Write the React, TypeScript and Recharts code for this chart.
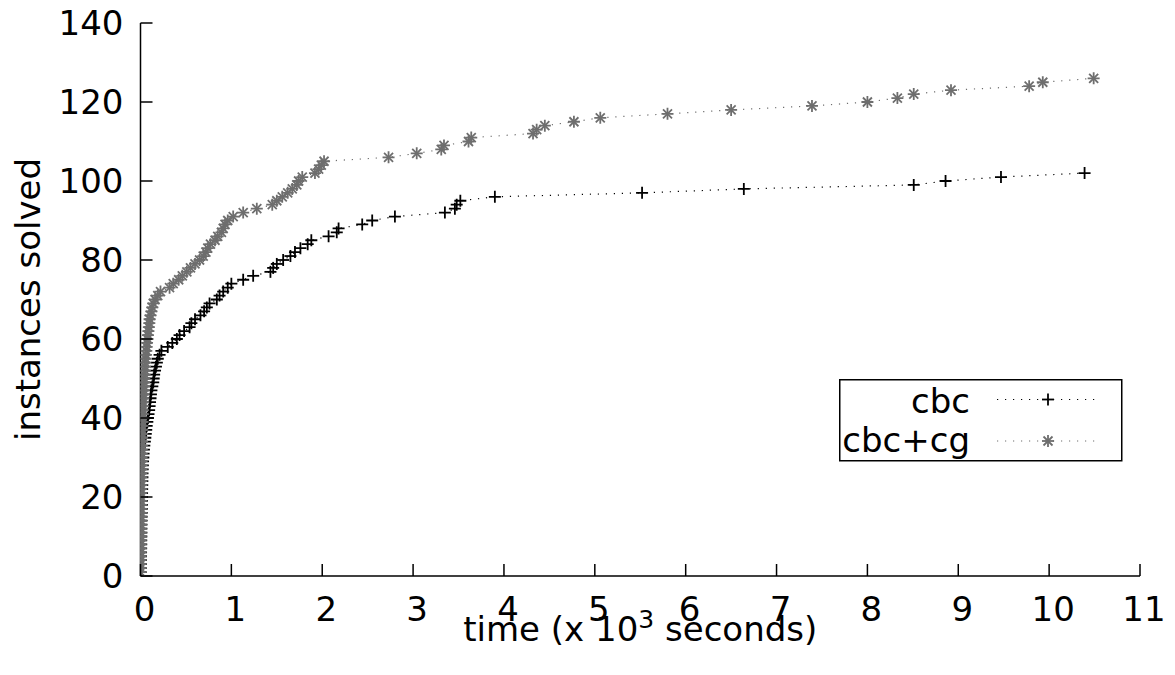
import React from "react";
import { LineChart, Line, XAxis, YAxis, Legend } from "recharts";

// time in 10^3 seconds, number of instances solved
const cbcTimes = [
  0.002, 0.003, 0.004, 0.005, 0.005, 0.006, 0.007, 0.008, 0.008, 0.009,
  0.010, 0.010, 0.011, 0.012, 0.012, 0.013, 0.014, 0.015, 0.015, 0.016,
  0.017, 0.018, 0.019, 0.020, 0.021, 0.022, 0.024, 0.026, 0.028, 0.031,
  0.034, 0.038, 0.042, 0.048, 0.053, 0.058, 0.063, 0.068, 0.075, 0.082,
  0.088, 0.095, 0.100, 0.105, 0.11, 0.115, 0.12, 0.13, 0.14, 0.145,
  0.15, 0.16, 0.17, 0.18, 0.19, 0.21, 0.23, 0.30, 0.35, 0.40,
  0.43, 0.48, 0.54, 0.56, 0.60, 0.66, 0.70, 0.73, 0.76, 0.84,
  0.87, 0.91, 0.96, 1.0, 1.13, 1.24, 1.43, 1.46, 1.50, 1.57,
  1.65, 1.70, 1.76, 1.84, 1.88, 2.07, 2.16, 2.18, 2.44, 2.55,
  2.80, 3.35, 3.46, 3.48, 3.52, 3.90, 5.52, 6.64, 8.51, 8.86,
  9.47, 10.39,
];

const cgTimes = [
  0.000, 0.001, 0.001, 0.002, 0.002, 0.002, 0.003, 0.003, 0.003, 0.004,
  0.004, 0.004, 0.005, 0.005, 0.005, 0.006, 0.006, 0.006, 0.007, 0.007,
  0.008, 0.008, 0.009, 0.009, 0.010, 0.010, 0.011, 0.011, 0.012, 0.012,
  0.013, 0.014, 0.015, 0.016, 0.017, 0.018, 0.019, 0.020, 0.022, 0.024,
  0.026, 0.027, 0.029, 0.030, 0.032, 0.034, 0.036, 0.038, 0.040, 0.042,
  0.045, 0.048, 0.050, 0.053, 0.056, 0.060, 0.064, 0.068, 0.072, 0.077,
  0.082, 0.087, 0.092, 0.097, 0.10, 0.11, 0.12, 0.13, 0.14, 0.16,
  0.19, 0.22, 0.32, 0.36, 0.42, 0.46, 0.51, 0.55, 0.60, 0.65,
  0.69, 0.72, 0.74, 0.77, 0.82, 0.85, 0.89, 0.91, 0.93, 0.96,
  1.02, 1.13, 1.28, 1.45, 1.50, 1.56, 1.62, 1.67, 1.72, 1.74,
  1.78, 1.92, 1.96, 1.99, 2.02, 2.73, 3.04, 3.31, 3.34, 3.61,
  3.64, 4.32, 4.36, 4.45, 4.77, 5.06, 5.80, 6.50, 7.39, 8.00,
  8.33, 8.51, 8.92, 9.78, 9.93, 10.49,
];

const xTicks = [0, 1, 2, 3, 4, 5, 6, 7, 8, 9, 10, 11];
const yTicks = [0, 20, 40, 60, 80, 100, 120, 140];

const seriesNames = ["cbc", "cbc+cg"];
const seriesColors = ["#000000", "#6e6e6e"];

const cbcData = cbcTimes.map((t, i) => ({ t, n: i + 1 }));
const cgData = cgTimes.map((t, i) => ({ t, n: i + 1 }));

const FONT = "'DejaVu Sans', sans-serif";
const FS = 34;
const TICK_LEN = 12;

const PlusMark = ({ cx, cy, color }: any) => (
  <g stroke={color} strokeWidth={1.8} fill="none">
    <line x1={cx - 6} y1={cy} x2={cx + 6} y2={cy} />
    <line x1={cx} y1={cy - 6} x2={cx} y2={cy + 6} />
  </g>
);

const StarMark = ({ cx, cy, color }: any) => (
  <g stroke={color} strokeWidth={1.8} fill="none">
    <line x1={cx - 6} y1={cy} x2={cx + 6} y2={cy} />
    <line x1={cx} y1={cy - 6} x2={cx} y2={cy + 6} />
    <line x1={cx - 4.5} y1={cy - 4.5} x2={cx + 4.5} y2={cy + 4.5} />
    <line x1={cx - 4.5} y1={cy + 4.5} x2={cx + 4.5} y2={cy - 4.5} />
  </g>
);

const BottomTick = (props: any) => {
  const { x, y, payload } = props;
  return (
    <g>
      <line x1={x} y1={y} x2={x} y2={y - TICK_LEN} stroke="#000" strokeWidth={1.5} />
      <text x={x + 4} y={y + 45} textAnchor="middle" fontFamily={FONT} fontSize={FS} fill="#000">
        {payload.value}
      </text>
    </g>
  );
};

const TopTick = (props: any) => {
  const { x, y } = props;
  return <line x1={x} y1={y} x2={x} y2={y + TICK_LEN} stroke="#000" strokeWidth={1.5} />;
};

const LeftTick = (props: any) => {
  const { x, y, payload } = props;
  return (
    <g>
      <line x1={x} y1={y} x2={x + TICK_LEN} y2={y} stroke="#000" strokeWidth={1.5} />
      <text x={x - 17} y={y} dy="0.36em" textAnchor="end" fontFamily={FONT} fontSize={FS} fill="#000">
        {payload.value}
      </text>
    </g>
  );
};

const RightTick = (props: any) => {
  const { x, y } = props;
  return <line x1={x} y1={y} x2={x - TICK_LEN} y2={y} stroke="#000" strokeWidth={1.5} />;
};

const XLabel = (props: any) => {
  const vb = props.viewBox || {};
  const cx = vb.x + vb.width / 2;
  const y = vb.y + 65;
  return (
    <text x={cx} y={y} textAnchor="middle" fontFamily={FONT} fontSize={FS} fill="#000">
      <tspan>time (x 10</tspan>
      <tspan dy={-13} fontSize={25}>3</tspan>
      <tspan dy={13}> seconds)</tspan>
    </text>
  );
};

const YLabel = (props: any) => {
  const vb = props.viewBox || {};
  const x = vb.x + 32;
  const y = vb.y + vb.height / 2;
  return (
    <text
      x={x}
      y={y}
      transform={`rotate(-90, ${x}, ${y})`}
      textAnchor="middle"
      fontFamily={FONT}
      fontSize={FS}
      fill="#000"
    >
      instances solved
    </text>
  );
};

const LegendContent = (props: any) => {
  const payload = props.payload || [];
  return (
    <svg width={284} height={83} style={{ display: "block", overflow: "visible" }}>
      <rect x={0.75} y={0.75} width={282} height={81} fill="none" stroke="#000" strokeWidth={1.5} />
      {payload.map((p: any, i: number) => {
        const ly = i === 0 ? 20.5 : 62;
        const by = i === 0 ? 34 : 73;
        const color = p.color || seriesColors[i];
        return (
          <g key={i}>
            <text x={131} y={by} textAnchor="end" fontFamily={FONT} fontSize={FS} fill="#000">
              {p.value}
            </text>
            <line
              x1={158}
              y1={ly}
              x2={260}
              y2={ly}
              stroke={color}
              strokeWidth={1.2}
              strokeDasharray="1.2 6.8"
            />
            {i === 0 ? (
              <PlusMark cx={209} cy={ly} color={color} />
            ) : (
              <StarMark cx={209} cy={ly} color={color} />
            )}
          </g>
        );
      })}
    </svg>
  );
};

export default function App() {
  return (
    <LineChart
      width={1160}
      height={660}
      margin={{ top: 15, right: 28, left: 0, bottom: 0 }}
      style={{ background: "#fff" }}
    >
      <XAxis
        xAxisId="b"
        dataKey="t"
        type="number"
        domain={[0, 11]}
        ticks={xTicks}
        interval={0}
        allowDataOverflow
        height={92}
        tickSize={0}
        tickMargin={0}
        tickLine={false}
        axisLine={{ stroke: "#000", strokeWidth: 1.5 }}
        tick={<BottomTick />}
        label={<XLabel />}
      />
      <XAxis
        xAxisId="top"
        orientation="top"
        dataKey="t"
        type="number"
        domain={[0, 11]}
        ticks={xTicks}
        interval={0}
        height={0}
        tickSize={0}
        tickMargin={0}
        tickLine={false}
        axisLine={{ stroke: "#000", strokeWidth: 1.5 }}
        tick={<TopTick />}
      />
      <YAxis
        yAxisId="l"
        type="number"
        domain={[0, 140]}
        ticks={yTicks}
        interval={0}
        allowDataOverflow
        width={132.5}
        tickSize={0}
        tickMargin={0}
        tickLine={false}
        axisLine={{ stroke: "#000", strokeWidth: 1.5 }}
        tick={<LeftTick />}
        label={<YLabel />}
      />
      <YAxis
        yAxisId="r"
        orientation="right"
        type="number"
        domain={[0, 140]}
        ticks={yTicks}
        interval={0}
        width={0}
        tickSize={0}
        tickMargin={0}
        tickLine={false}
        axisLine={{ stroke: "#000", strokeWidth: 1.5 }}
        tick={<RightTick />}
      />
      <Legend
        layout="vertical"
        align="center"
        verticalAlign="middle"
        wrapperStyle={{ position: "absolute", left: 831, top: 371, width: 284, height: 83 }}
        content={<LegendContent />}
      />
      <Line
        xAxisId="b"
        yAxisId="l"
        data={cbcData}
        dataKey="n"
        name={seriesNames[0]}
        stroke={seriesColors[0]}
        strokeWidth={1.2}
        strokeDasharray="1.2 6.8"
        isAnimationActive={false}
        dot={(p: any) => <PlusMark key={`c${p.index}`} cx={p.cx} cy={p.cy} color={seriesColors[0]} />}
        activeDot={false}
      />
      <Line
        xAxisId="b"
        yAxisId="l"
        data={cgData}
        dataKey="n"
        name={seriesNames[1]}
        stroke={seriesColors[1]}
        strokeWidth={1.2}
        strokeDasharray="1.2 6.8"
        isAnimationActive={false}
        dot={(p: any) => <StarMark key={`g${p.index}`} cx={p.cx} cy={p.cy} color={seriesColors[1]} />}
        activeDot={false}
      />
    </LineChart>
  );
}
